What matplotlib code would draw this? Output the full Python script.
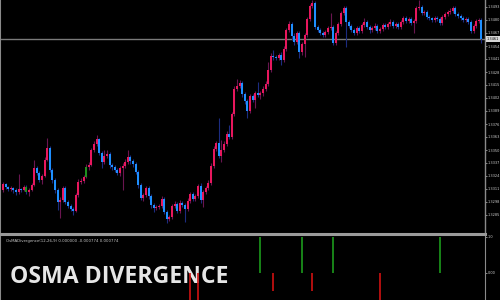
import matplotlib.pyplot as plt
import numpy as np

# candle data (open of each bar = previous close)
first_open = 1.3310
closes = [1.3316, 1.3313, 1.3311, 1.3312, 1.3310, 1.3308, 1.3311, 1.3310, 1.3313, 1.3308,
          1.3310, 1.3315, 1.3332, 1.3327, 1.3320, 1.3324, 1.3340, 1.3352, 1.3330, 1.3320,
          1.3310, 1.3298, 1.3300, 1.3312, 1.3298, 1.3294, 1.3291, 1.3289, 1.3305, 1.3318,
          1.3319, 1.3323, 1.3333, 1.3335, 1.3350, 1.3356, 1.3361, 1.3347, 1.3338, 1.3344,
          1.3346, 1.3335, 1.3333, 1.3330, 1.3327, 1.3332, 1.3334, 1.3338, 1.3343, 1.3339,
          1.3336, 1.3328, 1.3315, 1.3302, 1.3305, 1.3312, 1.3304, 1.3295, 1.3292, 1.3293,
          1.3294, 1.3301, 1.3288, 1.3281, 1.3283, 1.3294, 1.3296, 1.3289, 1.3297, 1.3295,
          1.3291, 1.3299, 1.3306, 1.3301, 1.3304, 1.3314, 1.3300, 1.3308, 1.3312, 1.3317,
          1.3334, 1.3351, 1.3357, 1.3344, 1.3350, 1.3356, 1.3366, 1.3363, 1.3386, 1.3411,
          1.3414, 1.3417, 1.3406, 1.3399, 1.3389, 1.3404, 1.3400, 1.3407, 1.3405, 1.3407,
          1.3411, 1.3416, 1.3430, 1.3444, 1.3443, 1.3442, 1.3445, 1.3440, 1.3451, 1.3470,
          1.3476, 1.3464, 1.3458, 1.3467, 1.3448, 1.3456, 1.3465, 1.3481, 1.3494, 1.3497,
          1.3473, 1.3470, 1.3467, 1.3465, 1.3468, 1.3472, 1.3473, 1.3457, 1.3467, 1.3476,
          1.3487, 1.3492, 1.3478, 1.3474, 1.3470, 1.3467, 1.3472, 1.3469, 1.3475, 1.3478,
          1.3473, 1.3470, 1.3472, 1.3474, 1.3469, 1.3471, 1.3475, 1.3473, 1.3476, 1.3478,
          1.3474, 1.3476, 1.3473, 1.3478, 1.3482, 1.3479, 1.3481, 1.3477, 1.3479, 1.3492,
          1.3493, 1.3487, 1.3488, 1.3483, 1.3482, 1.3480, 1.3482, 1.3481, 1.3477, 1.3483,
          1.3486, 1.3488, 1.3489, 1.3492, 1.3486, 1.3484, 1.3482, 1.3480, 1.3481, 1.3478,
          1.3469, 1.3474, 1.3479, 1.3480, 1.3461]
highs = [1.3318, 1.3317, 1.3314, 1.3314, 1.3313, 1.3312, 1.3326, 1.3312, 1.3315, 1.3315,
         1.3312, 1.3317, 1.3340, 1.3334, 1.3329, 1.3326, 1.3343, 1.3362, 1.3354, 1.3332,
         1.3322, 1.3312, 1.3303, 1.3314, 1.3314, 1.3300, 1.3296, 1.3293, 1.3307, 1.3321,
         1.3322, 1.3325, 1.3336, 1.3338, 1.3352, 1.3359, 1.3365, 1.3362, 1.3349, 1.3350,
         1.3350, 1.3348, 1.3337, 1.3335, 1.3332, 1.3334, 1.3337, 1.3341, 1.3350, 1.3345,
         1.3341, 1.3338, 1.3330, 1.3317, 1.3307, 1.3314, 1.3314, 1.3306, 1.3297, 1.3295,
         1.3296, 1.3304, 1.3303, 1.3290, 1.3285, 1.3296, 1.3299, 1.3298, 1.3300, 1.3299,
         1.3297, 1.3302, 1.3308, 1.3308, 1.3306, 1.3316, 1.3317, 1.3310, 1.3314, 1.3320,
         1.3337, 1.3354, 1.3359, 1.3382, 1.3360, 1.3359, 1.3369, 1.3375, 1.3388, 1.3414,
         1.3421, 1.3420, 1.3419, 1.3408, 1.3401, 1.3406, 1.3406, 1.3409, 1.3418, 1.3409,
         1.3414, 1.3419, 1.3438, 1.3447, 1.3450, 1.3445, 1.3447, 1.3448, 1.3454, 1.3472,
         1.3479, 1.3478, 1.3467, 1.3469, 1.3469, 1.3458, 1.3467, 1.3483, 1.3496, 1.3500,
         1.3499, 1.3475, 1.3472, 1.3469, 1.3470, 1.3474, 1.3487, 1.3475, 1.3469, 1.3478,
         1.3489, 1.3494, 1.3494, 1.3480, 1.3476, 1.3472, 1.3474, 1.3474, 1.3477, 1.3482,
         1.3480, 1.3475, 1.3474, 1.3477, 1.3476, 1.3473, 1.3477, 1.3477, 1.3478, 1.3481,
         1.3480, 1.3478, 1.3478, 1.3480, 1.3484, 1.3484, 1.3483, 1.3483, 1.3481, 1.3494,
         1.3500, 1.3495, 1.3490, 1.3490, 1.3485, 1.3483, 1.3484, 1.3484, 1.3483, 1.3485,
         1.3488, 1.3490, 1.3492, 1.3494, 1.3494, 1.3488, 1.3486, 1.3484, 1.3483, 1.3483,
         1.3480, 1.3476, 1.3481, 1.3482, 1.3482]
lows = [1.3308, 1.3311, 1.3309, 1.3309, 1.3307, 1.3305, 1.3306, 1.3308, 1.3309, 1.3306,
        1.3304, 1.3309, 1.3314, 1.3325, 1.3318, 1.3316, 1.3323, 1.3339, 1.3328, 1.3317,
        1.3307, 1.3290, 1.3282, 1.3298, 1.3296, 1.3292, 1.3289, 1.3285, 1.3288, 1.3303,
        1.3316, 1.3317, 1.3322, 1.3330, 1.3334, 1.3348, 1.3354, 1.3345, 1.3332, 1.3336,
        1.3342, 1.3332, 1.3330, 1.3328, 1.3325, 1.3324, 1.3310, 1.3332, 1.3336, 1.3336,
        1.3333, 1.3326, 1.3312, 1.3300, 1.3299, 1.3303, 1.3301, 1.3292, 1.3288, 1.3290,
        1.3291, 1.3292, 1.3286, 1.3277, 1.3279, 1.3281, 1.3292, 1.3287, 1.3287, 1.3293,
        1.3278, 1.3289, 1.3297, 1.3299, 1.3299, 1.3302, 1.3297, 1.3293, 1.3306, 1.3310,
        1.3315, 1.3332, 1.3349, 1.3342, 1.3338, 1.3348, 1.3354, 1.3361, 1.3361, 1.3384,
        1.3409, 1.3412, 1.3403, 1.3396, 1.3382, 1.3387, 1.3398, 1.3392, 1.3403, 1.3401,
        1.3404, 1.3409, 1.3414, 1.3428, 1.3440, 1.3440, 1.3440, 1.3435, 1.3438, 1.3449,
        1.3468, 1.3460, 1.3455, 1.3456, 1.3442, 1.3445, 1.3443, 1.3463, 1.3479, 1.3492,
        1.3471, 1.3468, 1.3465, 1.3463, 1.3463, 1.3466, 1.3470, 1.3455, 1.3455, 1.3465,
        1.3474, 1.3485, 1.3453, 1.3472, 1.3468, 1.3465, 1.3465, 1.3467, 1.3467, 1.3473,
        1.3471, 1.3467, 1.3468, 1.3470, 1.3467, 1.3467, 1.3469, 1.3471, 1.3471, 1.3474,
        1.3472, 1.3472, 1.3471, 1.3471, 1.3476, 1.3477, 1.3477, 1.3475, 1.3467, 1.3477,
        1.3490, 1.3485, 1.3485, 1.3481, 1.3480, 1.3478, 1.3478, 1.3479, 1.3475, 1.3475,
        1.3481, 1.3484, 1.3486, 1.3487, 1.3484, 1.3482, 1.3480, 1.3478, 1.3478, 1.3476,
        1.3467, 1.3467, 1.3472, 1.3477, 1.3457]
doji_bars = [9, 32]
price_ticks = [1.3493, 1.3480, 1.3467, 1.3454, 1.3441, 1.3428, 1.3415, 1.3402, 1.3389,
               1.3376, 1.3363, 1.3350, 1.3337, 1.3324, 1.3311, 1.3298, 1.3285]
last_price = 1.3461

# OSMA divergence histogram (bar index, value)
div_up_bars = [99, 115, 127, 168]
div_up_vals = [1.0, 1.0, 1.0, 1.0]
div_dn_bars = [72, 75, 104, 119, 145]
div_dn_vals = [-1.0, -1.0, -0.5, -0.5, -1.0]

opens = [first_open] + closes[:-1]
n = len(closes)

fig = plt.figure(figsize=(5, 3), dpi=100, facecolor='black')
ax = fig.add_axes([0.0, 0.22, 0.97, 0.78], facecolor='black')
ax2 = fig.add_axes([0.0, 0.0, 0.97, 0.22], facecolor='black')

bull_col, bear_col = '#e8175d', '#1e8fff'
bull_wick, bear_wick = '#6a1550', '#1c2c80'

for i in range(n):
    o, c = opens[i], closes[i]
    up = c >= o
    wick = bull_wick if up else bear_wick
    ax.vlines(i, lows[i], highs[i], color=wick, lw=0.8, zorder=2)
    body = bull_col if up else bear_col
    if i in doji_bars:
        body = '#1f8f1f'
    h = max(abs(c - o), 0.00008)
    ax.bar(i, h, bottom=min(o, c), width=0.75, color=body, lw=0, zorder=3)

ax.axhline(last_price, color='#7a7a7a', lw=1, zorder=1)

ax.set_xlim(-1.15, 185.4)
ax.set_ylim(1.3266, 1.3500)
ax.set_xticks([])
ax.yaxis.tick_right()
ax.set_yticks(price_ticks)
ax.set_yticklabels([f'{t:.4f}' for t in price_ticks])
ax.tick_params(axis='y', colors='#a0a0a0', labelcolor='#d0d0d0', labelsize=2.5,
               length=1.2, width=0.6, pad=0.5)
for s in ['top', 'bottom']:
    ax.spines[s].set_visible(False)
ax.spines['left'].set_color('#8a8a8a')
ax.spines['right'].set_color('#8a8a8a')
ax.spines['left'].set_linewidth(1.5)
ax.spines['right'].set_linewidth(1)
ax.text(1.003, last_price, f'{last_price:.4f}', transform=ax.get_yaxis_transform(),
        fontsize=2.5, color='black', va='center', ha='left', clip_on=False,
        bbox=dict(boxstyle='square,pad=0.2', fc='#d8d8d8', ec='none'))

# lower indicator panel
ax2.vlines(div_up_bars, 0, div_up_vals, color='#1c9a1c', lw=1.2, zorder=3)
ax2.vlines(div_dn_bars, 0, div_dn_vals, color='#d01212', lw=1.2, zorder=3)
ax2.set_xlim(-1.15, 185.4)
ax2.set_ylim(-0.75, 1.08)
ax2.set_xticks([])
ax2.yaxis.tick_right()
ax2.set_yticks([1.0, 0.0])
ax2.set_yticklabels(['1.0', '0.00'])
ax2.tick_params(axis='y', colors='#a0a0a0', labelcolor='#d0d0d0', labelsize=2.5,
                length=1.2, width=0.6, pad=0.5)
ax2.spines['bottom'].set_visible(False)
ax2.spines['top'].set_color('#9a9a9a')
ax2.spines['top'].set_linewidth(2.2)
ax2.spines['left'].set_color('#8a8a8a')
ax2.spines['left'].set_linewidth(1.5)
ax2.spines['right'].set_color('#8a8a8a')
ax2.text(0.012, 0.93, 'OsMADivergence(12,26,9) 0.000000 -0.000774 0.000774',
         transform=ax2.transAxes, fontsize=2.8, color='#c8c8c8', va='top', ha='left')
ax2.text(0.021, 0.35, 'OSMA DIVERGENCE', transform=ax2.transAxes, fontsize=16.6,
         fontweight='bold', family='Open Sans', color='#e6e6e6', va='center',
         ha='left', zorder=1)

fig.savefig('out.png', dpi=100, facecolor='black')
